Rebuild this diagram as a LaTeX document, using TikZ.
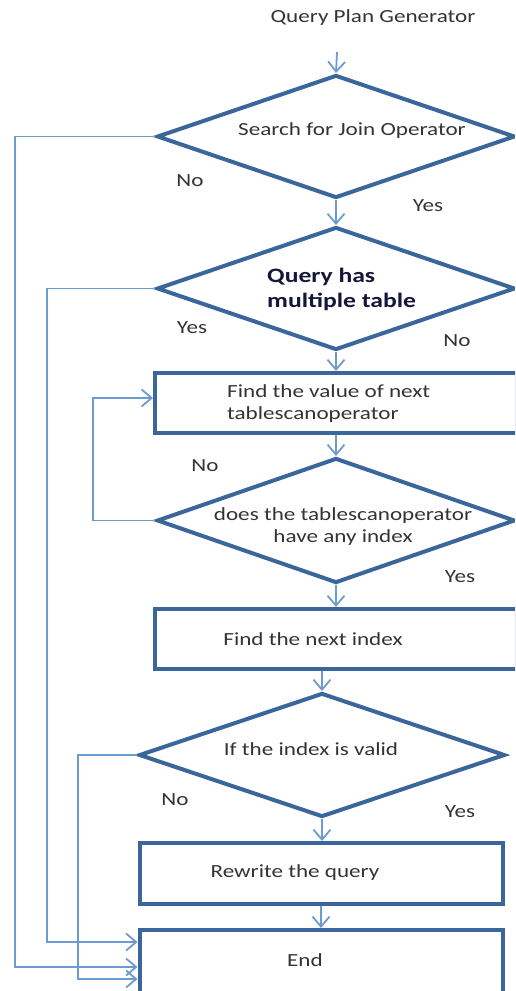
\documentclass[tikz,border=0pt]{standalone}
\usepackage{fontspec}
\setmainfont{Carlito}[FakeStretch=1.25]
\usetikzlibrary{shapes.geometric,arrows.meta}
\definecolor{boxblue}{HTML}{3A669B}
\definecolor{lineblue}{HTML}{6C9BD2}
\definecolor{txtgray}{HTML}{333333}
\definecolor{boldtxt}{HTML}{16163A}
\tikzset{
  boxnode/.style={draw=boxblue, line width=4pt, rectangle, inner sep=0pt},
  dianode/.style={draw=boxblue, line width=4pt, diamond, inner sep=0pt},
  txt/.style={text=txtgray, inner sep=0pt, font=\fontsize{18.5}{22}\selectfont},
  boldt/.style={text=boldtxt, inner sep=0pt, align=left, font=\fontsize{20.5}{25}\selectfont\bfseries},
  conn/.style={draw=lineblue, line width=1.8pt, -{Straight Barb[length=10pt,width=17pt]}},
}
\begin{document}
\begin{tikzpicture}[x=1pt,y=-1pt]
\clip (0,0) rectangle (515,991);
% title
\node[txt] (title) at (373,18) {Query Plan Generator};
\coordinate (start) at (337,52);
% shapes
\node[dianode, minimum width=358pt, minimum height=123pt] (d1) at (336,136.5) {};
\node[dianode, minimum width=358pt, minimum height=123pt] (d2) at (336,288.5) {};
\node[boxnode, minimum width=362pt, minimum height=60pt] (b1) at (336,403) {};
\node[dianode, minimum width=358pt, minimum height=125pt] (d3) at (336,520.5) {};
\node[boxnode, minimum width=362pt, minimum height=60pt] (b2) at (336,639) {};
\node[dianode, minimum width=366pt, minimum height=124pt] (d4) at (322,755) {};
\node[boxnode, minimum width=363pt, minimum height=61pt] (b3) at (321,873.5) {};
\node[boxnode, minimum width=363pt, minimum height=72pt] (e) at (321,966) {};
% texts
\node[txt] (t1) at (352,131) {Search for Join Operator};
\node[boldt, anchor=west] (t2) at (267,289.5) {Query has\\multiple table};
\node[txt, align=left, anchor=west] (t3) at (227,404) {Find the value of next\\tablescanoperator};
\node[txt, align=center] (t4) at (343,527) {does the tablescanoperator\\have any index};
\node[txt] (t5) at (313,639) {Find the next index};
\node[txt] (t6) at (311,749) {If the index is valid};
\node[txt] (t7) at (295,873) {Rewrite the query};
\node[txt] (t8) at (305,960) {End};
% labels
\node[txt] (l1) at (190,181) {No};
\node[txt] (l2) at (428,206) {Yes};
\node[txt] (l3) at (192,328) {Yes};
\node[txt] (l4) at (457,341) {No};
\node[txt] (l5) at (205,466) {No};
\node[txt] (l6) at (460,577) {Yes};
\node[txt] (l7) at (175,800) {No};
\node[txt] (l8) at (460,812) {Yes};
% vertical connectors
\draw[conn] (start) -- (d1.north);
\draw[conn] (d1.south) -- (d2.north);
\draw[conn] (d2.south) -- (d2.south |- b1.north);
\draw[conn] (b1.south -| d3.north) -- (d3.north);
\draw[conn] (d3.south) -- (d3.south |- b2.north);
\draw[conn] (d4.north |- b2.south) -- (d4.north);
\draw[conn] (d4.south) -- (d4.south |- b3.north);
\draw[conn] (b3.south) -- (e.north);
% loops
\coordinate (c1) at (15,967);
\coordinate (c2) at (47,942);
\coordinate (c3) at (93,398);
\coordinate (c4) at (78,979);
\draw[conn] (d1.west) -| (c1) -- (c1 -| e.west);
\draw[conn] (d2.west) -| (c2) -- (c2 -| e.west);
\draw[conn] (d3.west) -| (c3) -- (c3 -| b1.west);
\draw[conn] (d4.west) -| (c4) -- (c4 -| e.west);
\end{tikzpicture}
\end{document}
